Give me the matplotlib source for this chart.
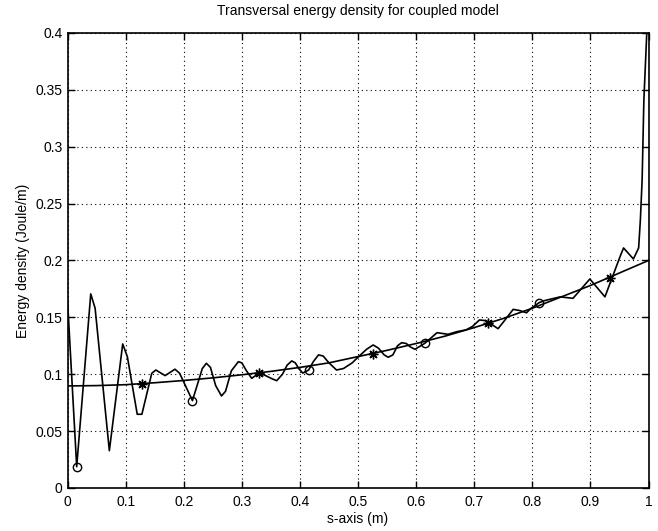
import matplotlib
matplotlib.use("Agg")
import matplotlib.pyplot as plt

plt.rcParams['font.family'] = ['Liberation Sans', 'DejaVu Sans']

# Oscillating (coupled model) curve
osc_x = [0.0, 0.0158, 0.040, 0.0475, 0.072, 0.095, 0.103, 0.120, 0.128, 0.145,
         0.152, 0.168, 0.185, 0.193, 0.215, 0.226, 0.232, 0.239, 0.246, 0.255,
         0.265, 0.272, 0.282, 0.294, 0.300, 0.308, 0.317, 0.330, 0.340, 0.352,
         0.360, 0.370, 0.378, 0.386, 0.392, 0.398, 0.405, 0.415, 0.423, 0.432,
         0.440, 0.450, 0.463, 0.475, 0.490, 0.500, 0.515, 0.526, 0.535, 0.545,
         0.552, 0.560, 0.568, 0.575, 0.583, 0.590, 0.598, 0.615, 0.636, 0.655,
         0.670, 0.686, 0.697, 0.709, 0.721, 0.741, 0.753, 0.767, 0.778, 0.790,
         0.798, 0.812, 0.821, 0.848, 0.870, 0.899, 0.925, 0.951, 0.957, 0.974,
         0.983, 0.986, 0.989, 0.992, 0.997]
osc_y = [0.165, 0.0187, 0.1706, 0.158, 0.0328, 0.1266, 0.1154, 0.0648, 0.0648, 0.1008,
         0.1037, 0.0988, 0.1044, 0.1008, 0.0768, 0.095, 0.105, 0.1096, 0.106, 0.090,
         0.0809, 0.085, 0.103, 0.111, 0.110, 0.103, 0.0964, 0.101, 0.099, 0.096,
         0.0943, 0.100, 0.108, 0.1117, 0.110, 0.105, 0.101, 0.1037, 0.111, 0.117,
         0.116, 0.110, 0.1037, 0.105, 0.110, 0.115, 0.122, 0.1257, 0.123, 0.117,
         0.1149, 0.117, 0.125, 0.1277, 0.127, 0.124, 0.1219, 0.1272, 0.1365, 0.1351,
         0.1374, 0.139, 0.142, 0.1477, 0.147, 0.140, 0.1477, 0.157, 0.156, 0.154,
         0.158, 0.163, 0.1647, 0.168, 0.1667, 0.1837, 0.168, 0.2034, 0.211, 0.2013,
         0.211, 0.236, 0.271, 0.341, 0.400]

# Smooth (reference) curve
smooth_x = [0.0, 0.05, 0.1, 0.15, 0.2, 0.25, 0.3, 0.35, 0.4, 0.45, 0.5,
            0.55, 0.6, 0.65, 0.7, 0.75, 0.8, 0.85, 0.9, 0.95, 1.0]
smooth_y = [0.0897, 0.0900, 0.0908, 0.0925, 0.0945, 0.0968, 0.0995, 0.1025, 0.106, 0.110, 0.1155,
            0.121, 0.127, 0.1335, 0.141, 0.149, 0.158, 0.168, 0.178, 0.189, 0.200]

# Markers
circle_x = [0.0158, 0.215, 0.415, 0.615, 0.812]
circle_y = [0.0187, 0.0768, 0.1037, 0.1272, 0.163]
star_x = [0.128, 0.330, 0.526, 0.724, 0.934]
star_y = [0.0914, 0.101, 0.118, 0.145, 0.185]

xticks = [0, 0.1, 0.2, 0.3, 0.4, 0.5, 0.6, 0.7, 0.8, 0.9, 1]
xtick_labels = ['0', '0.1', '0.2', '0.3', '0.4', '0.5', '0.6', '0.7', '0.8', '0.9', '1']
yticks = [0, 0.05, 0.1, 0.15, 0.2, 0.25, 0.3, 0.35, 0.4]
ytick_labels = ['0', '0.05', '0.1', '0.15', '0.2', '0.25', '0.3', '0.35', '0.4']

fig = plt.figure(figsize=(6.58, 5.31), dpi=100)
ax = fig.add_axes([0.1026, 0.081, 0.883, 0.857])

ax.plot(osc_x, osc_y, color='black', lw=1.2)
ax.plot(smooth_x, smooth_y, color='black', lw=1.2)
ax.plot(circle_x, circle_y, linestyle='none', marker='o', markersize=6,
        markerfacecolor='none', markeredgecolor='black', markeredgewidth=1.0)
ax.plot(star_x, star_y, linestyle='none', marker=(8, 2, 0), markersize=7,
        color='black', markeredgewidth=1.0)

ax.set_xlim(0, 1)
ax.set_ylim(0, 0.4)
ax.set_xticks(xticks)
ax.set_xticklabels(xtick_labels)
ax.set_yticks(yticks)
ax.set_yticklabels(ytick_labels)
ax.tick_params(direction='in', top=True, right=True, labelsize=10, length=5, width=1)
ax.tick_params(axis='x', pad=5)
ax.grid(True, color='black', linestyle=(0, (1, 3)), linewidth=0.8)
for s in ax.spines.values():
    s.set_linewidth(1.2)

ax.set_title('Transversal energy density for coupled model', fontsize=10, pad=13)
ax.set_xlabel('s-axis (m)', fontsize=10, labelpad=2)
ax.set_ylabel('Energy density (Joule/m)', fontsize=10, labelpad=4)

fig.savefig('out.png', dpi=100)
